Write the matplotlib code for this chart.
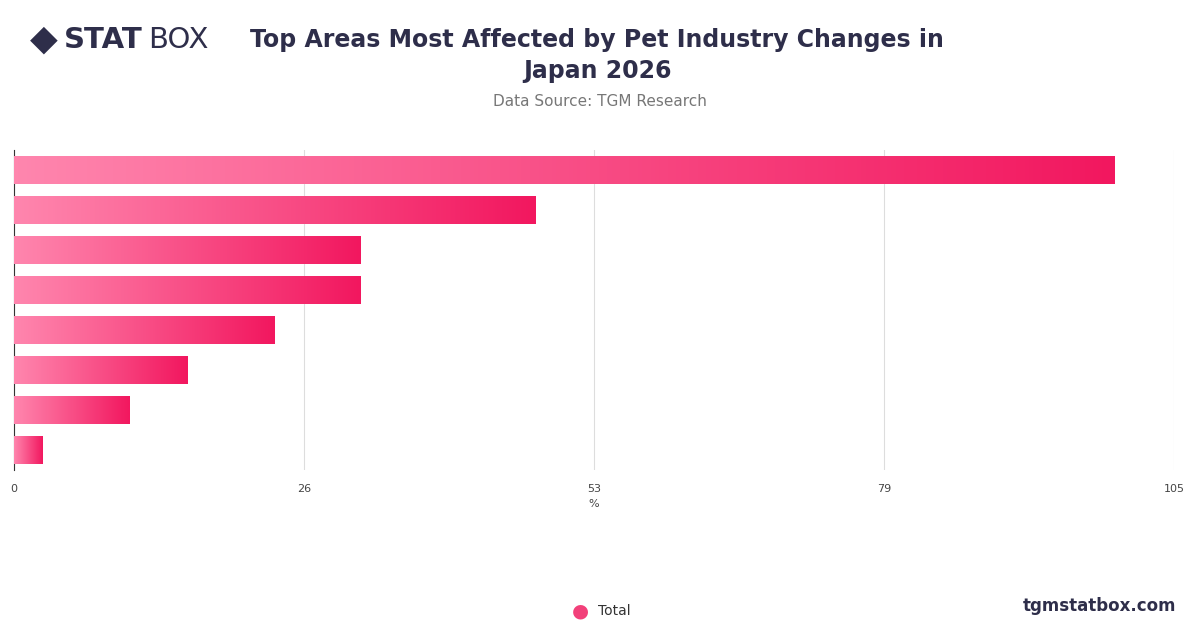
import matplotlib
matplotlib.use("Agg")
import matplotlib.pyplot as plt
import numpy as np
from matplotlib.colors import LinearSegmentedColormap

categories = ["Area 1", "Area 2", "Area 3", "Area 4", "Area 5", "Area 6", "Area 7", "Area 8"]
values = [99.6, 47.2, 31.4, 31.4, 23.6, 15.7, 10.5, 2.6]
ticks = [0, 26.25, 52.5, 78.75, 105]
tick_labels = ["0", "26", "53", "79", "105"]

W, H = 1200, 628
fig = plt.figure(figsize=(W/100, H/100), dpi=100)
ax = fig.add_axes([14/W, 1-470/H, 1160/W, 320/H])
cmap = LinearSegmentedColormap.from_list("g", ["#FF86AE", "#F2175F"])
grad = np.linspace(0, 1, 256).reshape(1, -1)
n = len(values)
for i, v in enumerate(values):
    y = n - 1 - i
    ax.imshow(grad, cmap=cmap, aspect="auto", extent=[0, v, y-0.34, y+0.34], zorder=3)
ax.set_xlim(0, 105)
ax.set_ylim(-0.5, n-0.5)
ax.set_xticks(ticks)
ax.set_xticklabels(tick_labels, fontsize=8, color="#444444")
ax.set_yticks([])
ax.grid(axis="x", color="#DDDDDD", lw=0.8, zorder=0)
for s in ["top", "right", "bottom"]:
    ax.spines[s].set_visible(False)
ax.spines["left"].set_color("#333333")
ax.tick_params(axis="x", length=0, pad=10)
ax.set_xlabel("%", fontsize=8, color="#444444", labelpad=4)

fig.text(597/W, 1-40/H, "Top Areas Most Affected by Pet Industry Changes in", ha="center", va="center",
         fontsize=17, fontweight="bold", color="#2E2E4A")
fig.text(597/W, 1-71/H, "Japan 2026", ha="center", va="center", fontsize=17, fontweight="bold", color="#2E2E4A")
fig.text(600/W, 1-101/H, "Data Source: TGM Research", ha="center", va="center", fontsize=11, color="#777777")

# logo
fig.text(44/W, 1-40/H, "◆", ha="center", va="center", fontsize=26, color="#2E2E4A")
fig.text(64/W, 1-40/H, "STAT", ha="left", va="center", fontsize=21, fontweight="bold", color="#2E2E4A")
fig.text(148/W, 1-40/H, "BOX", ha="left", va="center", fontsize=21, color="#2E2E4A")

# legend
fig.add_artist(plt.Circle((580/W, 1-611/H), 0.0, transform=fig.transFigure))
fig.text(580/W, 1-611/H, "●", ha="center", va="center", fontsize=14, color="#F2407A")
fig.text(598/W, 1-611/H, "Total", ha="left", va="center", fontsize=10, color="#333333")
fig.text(1176/W, 1-606/H, "tgmstatbox.com", ha="right", va="center", fontsize=12, fontweight="bold", color="#2E2E4A")

fig.savefig("out.png", dpi=100, facecolor="white")
